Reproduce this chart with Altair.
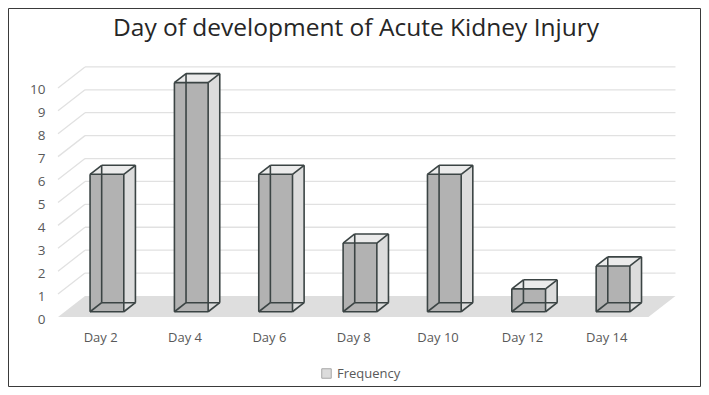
import json
import altair as alt
import pandas as pd

# ---- data ----
categories = ["Day 2", "Day 4", "Day 6", "Day 8", "Day 10", "Day 12", "Day 14"]
frequency = [6, 10, 6, 3, 6, 1, 2]
y_ticks = list(range(0, 11))
series_name = "Frequency"
title_text = "Day of development of Acute Kidney Injury"

# ---- pseudo-3D projection parameters (data units) ----
KX = 0.3203    # x shift per unit of depth
KY = 0.917     # y shift per unit of depth
D0, D1 = 0.25, 0.68   # bar front / back depth
HW = 0.2              # half bar width
N = len(categories)
XMAX = N + KX + 0.03
YMAX = 11
W, H = 620, 252
PAD = {"left": 50, "top": 57, "right": 23, "bottom": 70}

FONT = "Open Sans"
EDGE = "#3b4444"


def px(x, d):
    return x + d * KX


def py(y, d):
    return y + d * KY


side_rows, top_rows, front_rows, edge_rows = [], [], [], []
for i, (cat, v) in enumerate(zip(categories, frequency)):
    c = i + 0.5
    L, R = c - HW, c + HW
    front_rows.append(dict(cat=cat, x=px(L, D0), x2=px(R, D0), y=py(0, D0), y2=py(v, D0)))
    for d in (D0, D1):
        side_rows.append(dict(cat=cat, series=series_name, x=px(R, d), y=py(v, d), y2=py(0, d)))
        top_rows.append(dict(cat=cat, y=py(v, d), x=px(L, d), x2=px(R, d)))
    corners = [(L, 0), (R, 0), (R, v), (L, v)]
    for d in (D0, D1):
        for k in range(4):
            (ax, ay), (bx, by) = corners[k], corners[(k + 1) % 4]
            edge_rows.append(dict(x=px(ax, d), y=py(ay, d), x2=px(bx, d), y2=py(by, d)))
    for (ax, ay) in corners:
        edge_rows.append(dict(x=px(ax, D0), y=py(ay, D0), x2=px(ax, D1), y2=py(ay, D1)))

floor_rows = [dict(y=0, x=0, x2=N), dict(y=KY, x=KX, x2=N + KX)]
wall_rows = [dict(x=KX, x2=N + KX, y=t + KY, y2=t + KY) for t in y_ticks if t > 0]
diag_rows = [dict(x=0, x2=KX, y=t, y2=t + KY) for t in y_ticks if t > 0]

xscale = alt.Scale(domain=[0, XMAX], nice=False, zero=False)
yscale = alt.Scale(domain=[0, YMAX], nice=False, zero=False)

label_expr = json.dumps(categories) + "[floor(datum.value)]"
xaxis = alt.Axis(values=[i + 0.5 for i in range(N)], labelExpr=label_expr, title=None,
                 domain=False, ticks=False, tickSize=0, grid=False, labelPadding=14,
                 labelFont=FONT, labelFontSize=13, labelColor="#595959")
yaxis = alt.Axis(values=y_ticks, title=None, domain=False, ticks=False, tickSize=0,
                 grid=False, labelPadding=13, labelFont=FONT, labelFontSize=13.5,
                 labelColor="#595959", labelOffset=2)


def X(f="x"):
    return alt.X(f, type="quantitative", scale=xscale, axis=xaxis)


def Y(f="y"):
    return alt.Y(f, type="quantitative", scale=yscale, axis=yaxis)


floor = alt.Chart(pd.DataFrame(floor_rows)).mark_area(
    orient="horizontal", color="#dedede").encode(y=Y(), x=X(), x2="x2")

wall = alt.Chart(pd.DataFrame(wall_rows)).mark_rule(
    color="#e1e1e1", strokeWidth=1.3).encode(x=X(), x2="x2", y=Y(), y2="y2")

diag = alt.Chart(pd.DataFrame(diag_rows)).mark_rule(
    color="#e1e1e1", strokeWidth=1.3).encode(x=X(), x2="x2", y=Y(), y2="y2")

side = alt.Chart(pd.DataFrame(side_rows)).mark_area(opacity=1).encode(
    x=X(), y=Y(), y2="y2", detail="cat:N",
    fill=alt.Fill("series:N", scale=alt.Scale(range=["#dcdcdc"]),
                  legend=alt.Legend(title=None, orient="none", legendX=262, legendY=302,
                                    symbolType="square", symbolSize=90,
                                    symbolStrokeColor="#a6a6a6", symbolStrokeWidth=1,
                                    labelFont=FONT, labelFontSize=13,
                                    labelColor="#595959", labelOffset=4, padding=0)))

top = alt.Chart(pd.DataFrame(top_rows)).mark_area(
    orient="horizontal", color="#ebebeb").encode(y=Y(), x=X(), x2="x2", detail="cat:N")

front = alt.Chart(pd.DataFrame(front_rows)).mark_rect(color="#b2b2b2").encode(
    x=X(), x2="x2", y=Y(), y2="y2")

edges = alt.Chart(pd.DataFrame(edge_rows)).mark_rule(
    color=EDGE, strokeWidth=1.6).encode(x=X(), x2="x2", y=Y(), y2="y2")

border = alt.Chart(pd.DataFrame({"k": [0]})).mark_rect(
    fill="transparent", stroke="#3a3a3a", strokeWidth=1).encode(
    x=alt.value(-PAD["left"] + 0.5), x2=alt.value(W + PAD["right"] - 0.5),
    y=alt.value(-PAD["top"] + 0.5), y2=alt.value(H + PAD["bottom"] - 0.5))

chart = alt.layer(floor, wall, diag, side, top, front, edges, border).properties(
    width=W, height=H, padding=PAD,
    autosize=alt.AutoSizeParams(type="none"),
    title=alt.TitleParams(text=title_text, font=FONT, fontSize=24.5, fontWeight="normal",
                          color="#262626", anchor="middle", frame="group", dx=-12,
                          offset=0, dy=52, baseline="alphabetic"),
).configure_view(stroke=None)

chart.save("out.html", embed_options={"renderer": "svg", "actions": False})
